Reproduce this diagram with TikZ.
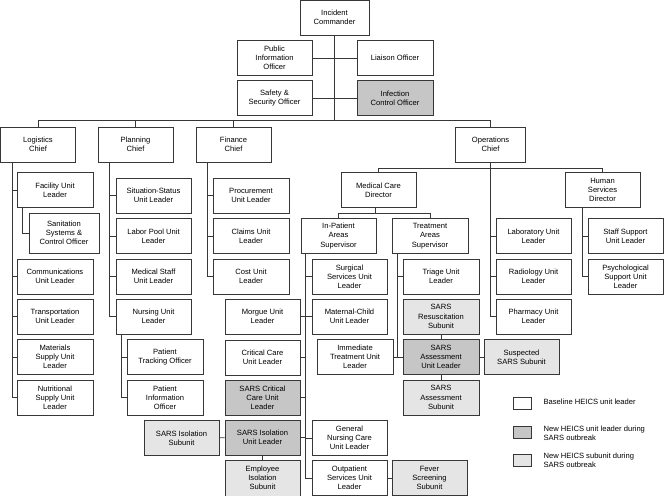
\documentclass[tikz,border=0pt]{standalone}
\usepackage{fontspec}
\setmainfont{Liberation Sans}
\definecolor{newlead}{RGB}{198,198,198}
\definecolor{newsub}{RGB}{229,229,229}
\definecolor{linegray}{RGB}{55,55,55}
\usetikzlibrary{positioning,calc}
\newcommand{\unitfont}{\fontsize{7.6}{9.2}\selectfont}

\tikzset{
  unit/.style={draw=linegray, line width=0.8pt, fill=white, align=center,
    minimum width=75pt, minimum height=35pt, inner sep=1pt, font=\unitfont},
  lead/.style={unit, fill=newlead},
  subunit/.style={unit, fill=newsub},
  link/.style={draw=linegray, line width=0.8pt},
  legtext/.style={align=left, inner sep=0pt, font=\unitfont}
}

\begin{document}
\begin{tikzpicture}[x=1pt, y=-1pt]
    \useasboundingbox (0,0) rectangle (665,496);

    % Command staff
    \node[unit, minimum width=69pt] (ic) at (334.5,17.5) {Incident\\Commander};
    \node[unit] (pio) at (274.5,58) {Public\\Information\\Officer};
    \node[unit, minimum width=76pt] (liaison) at (395,58) {Liaison Officer};
    \node[unit] (safety) at (274.5,98) {Safety \&\\Security Officer};
    \node[lead, minimum width=76pt] (infection) at (395,98) {Infection\\Control Officer};
    \coordinate (cbar) at (334.5,120);

    % Section chiefs
    \node[unit] (logistics) at (38,144.5) {Logistics\\Chief};
    \node[unit] (planning) at (135.5,144.5) {Planning\\Chief};
    \node[unit] (finance) at (233.5,144.5) {Finance\\Chief};
    \node[unit, minimum width=70pt] (operations) at (490.5,144.5) {Operations\\Chief};

    % Logistics
    \node[unit, minimum width=76pt] (facility) at (55,190) {Facility Unit\\Leader};
    \node[unit, minimum width=70pt, minimum height=40pt] (sanitation) at (64,233) {Sanitation\\Systems \&\\Control Officer};
    \node[unit, minimum width=76pt] (comms) at (55,276.5) {Communications\\Unit Leader};
    \node[unit, minimum width=76pt] (transport) at (55,316.5) {Transportation\\Unit Leader};
    \node[unit, minimum width=76pt] (materials) at (55,357) {Materials\\Supply Unit\\Leader};
    \node[unit, minimum width=76pt] (nutritional) at (55,397.5) {Nutritional\\Supply Unit\\Leader};

    % Planning
    \node[unit] (situation) at (153.5,195.5) {Situation-Status\\Unit Leader};
    \node[unit] (laborpool) at (153.5,236) {Labor Pool Unit\\Leader};
    \node[unit] (medstaff) at (153.5,276.5) {Medical Staff\\Unit Leader};
    \node[unit] (nursing) at (153.5,316.5) {Nursing Unit\\Leader};
    \node[unit, minimum width=76pt] (ptracking) at (165,357) {Patient\\Tracking Officer};
    \node[unit, minimum width=76pt] (pinfo) at (165,397.5) {Patient\\Information\\Officer};

    % Finance
    \node[unit, minimum width=76pt] (procurement) at (251,195.5) {Procurement\\Unit Leader};
    \node[unit, minimum width=76pt] (claims) at (251,236) {Claims Unit\\Leader};
    \node[unit, minimum width=76pt] (cost) at (251,276.5) {Cost Unit\\Leader};

    % Operations
    \node[unit] (medcare) at (378.5,190) {Medical Care\\Director};
    \node[unit] (humserv) at (602.5,190) {Human\\Services\\Director};
    \node[unit] (inpatient) at (338.5,236) {In-Patient\\Areas\\Supervisor};
    \node[unit, minimum width=76pt] (treatment) at (430,236) {Treatment\\Areas\\Supervisor};
    \node[unit] (lab) at (533.5,236) {Laboratory Unit\\Leader};
    \node[unit] (radiology) at (533.5,276.5) {Radiology Unit\\Leader};
    \node[unit] (pharmacy) at (533.5,316.5) {Pharmacy Unit\\Leader};
    \node[unit] (staffsup) at (625.5,236) {Staff Support\\Unit Leader};
    \node[unit] (psych) at (625.5,276.5) {Psychological\\Support Unit\\Leader};

    % In-patient areas
    \node[unit] (surgical) at (349.5,276.5) {Surgical\\Services Unit\\Leader};
    \node[unit] (maternal) at (349.5,316.5) {Maternal-Child\\Unit Leader};
    \node[unit] (general) at (349.5,438) {General\\Nursing Care\\Unit Leader};
    \node[unit] (outpatient) at (349.5,478) {Outpatient\\Services Unit\\Leader};
    \node[subunit] (fever) at (429.5,478) {Fever\\Screening\\Subunit};
    \node[unit] (morgue) at (262.5,316.5) {Morgue Unit\\Leader};
    \node[unit] (critcare) at (262.5,357.5) {Critical Care\\Unit Leader};
    \node[lead] (sarscrit) at (262.5,397.5) {SARS Critical\\Care Unit\\Leader};
    \node[lead] (sarsiso) at (262.5,437.5) {SARS Isolation\\Unit Leader};
    \node[subunit, minimum height=36pt] (empiso) at (262.5,478) {Employee\\Isolation\\Subunit};
    \node[subunit] (isosub) at (181.5,438) {SARS Isolation\\Subunit};

    % Treatment areas
    \node[unit, minimum width=76pt] (triage) at (441,276.5) {Triage Unit\\Leader};
    \node[subunit, minimum width=76pt] (resus) at (441,316.5) {SARS\\Resuscitation\\Subunit};
    \node[lead, minimum width=76pt] (assess) at (441,357) {SARS\\Assessment\\Unit Leader};
    \node[subunit, minimum width=76pt] (assesssub) at (441,397.5) {SARS\\Assessment\\Subunit};
    \node[unit, minimum width=76pt] (immediate) at (355,357) {Immediate\\Treatment Unit\\Leader};
    \node[subunit] (suspected) at (521.5,357) {Suspected\\SARS Subunit};

    % Legend
    \node[unit, minimum width=18pt, minimum height=12pt] (legbase) at (522,403) {};
    \node[lead, minimum width=18pt, minimum height=12pt] (legnew) at (522,432) {};
    \node[subunit, minimum width=18pt, minimum height=12pt] (legsub) at (522,460.5) {};
    \node[legtext, right=12pt of legbase, yshift=1.5pt] (legbasetxt) {Baseline HEICS unit leader};
    \node[legtext, right=12pt of legnew, yshift=-1pt] (legnewtxt) {New HEICS unit leader during\\SARS outbreak};
    \node[legtext, right=12pt of legsub, yshift=0pt] (legsubtxt) {New HEICS subunit during\\SARS outbreak};

    % Command connectors
    \draw[link] (ic.south) -- (cbar);
    \draw[link] (pio) -- (liaison);
    \draw[link] (safety) -- (infection);
    \draw[link] (logistics.north) |- (operations.north |- cbar) -- (operations.north);
    \draw[link] (planning.north) -- (planning.north |- cbar);
    \draw[link] (finance.north) -- (finance.north |- cbar);

    % Logistics connectors
    \coordinate (lsp) at ([xshift=12pt]logistics.south west);
    \draw[link] (lsp) |- (nutritional.west);
    \foreach \n in {facility,comms,transport,materials}
        \draw[link] (\n.west) -- (\n.west -| lsp);
    \draw[link] ([xshift=6pt]facility.south west) |- (sanitation.west);

    % Planning connectors
    \coordinate (psp) at ([xshift=12pt]planning.south west);
    \draw[link] (psp) |- (nursing.west);
    \foreach \n in {situation,laborpool,medstaff}
        \draw[link] (\n.west) -- (\n.west -| psp);
    \coordinate (nsp) at ([xshift=6pt]nursing.south west);
    \draw[link] (nsp) |- (pinfo.west);
    \draw[link] (ptracking.west) -- (ptracking.west -| nsp);

    % Finance connectors
    \coordinate (fsp) at ([xshift=12pt]finance.south west);
    \draw[link] (fsp) |- (cost.west);
    \foreach \n in {procurement,claims}
        \draw[link] (\n.west) -- (\n.west -| fsp);

    % Operations connectors
    \coordinate (obar) at (490.5,168);
    \draw[link] (operations.south) |- (pharmacy.west);
    \foreach \n in {lab,radiology}
        \draw[link] (\n.west) -- (\n.west -| operations.south);
    \draw[link] (medcare.north) |- (humserv.north |- obar) -- (humserv.north);
    \coordinate (hsp) at ([xshift=18pt]humserv.south west);
    \draw[link] (hsp) |- (psych.west);
    \draw[link] (staffsup.west) -- (staffsup.west -| hsp);
    \coordinate (mbar) at (375,213);
    \draw[link] (medcare.south -| mbar) -- (mbar);
    \draw[link] (inpatient.north) |- (treatment.north |- mbar) -- (treatment.north);

    % In-patient connectors
    \coordinate (isp) at ([xshift=4.5pt]inpatient.south west);
    \draw[link] (isp) |- (outpatient.west);
    \foreach \n in {surgical,maternal,general}
        \draw[link] (\n.west) -- (\n.west -| isp);
    \foreach \n in {morgue,critcare,sarscrit,sarsiso}
        \draw[link] (\n.east) -- (\n.east -| isp);
    \draw[link] (isosub) -- (sarsiso);
    \draw[link] (sarsiso) -- (empiso);
    \draw[link] (outpatient) -- (fever);

    % Treatment connectors
    \coordinate (tsp) at ([xshift=6pt]treatment.south west);
    \draw[link] (tsp) |- (assess.west);
    \draw[link] (triage.west) -- (triage.west -| tsp);
    \draw[link] (immediate.east) -- (assess.west);
    \draw[link] (resus) -- (assess);
    \draw[link] (assess) -- (assesssub);
    \draw[link] (assess) -- (suspected);
\end{tikzpicture}
\end{document}
